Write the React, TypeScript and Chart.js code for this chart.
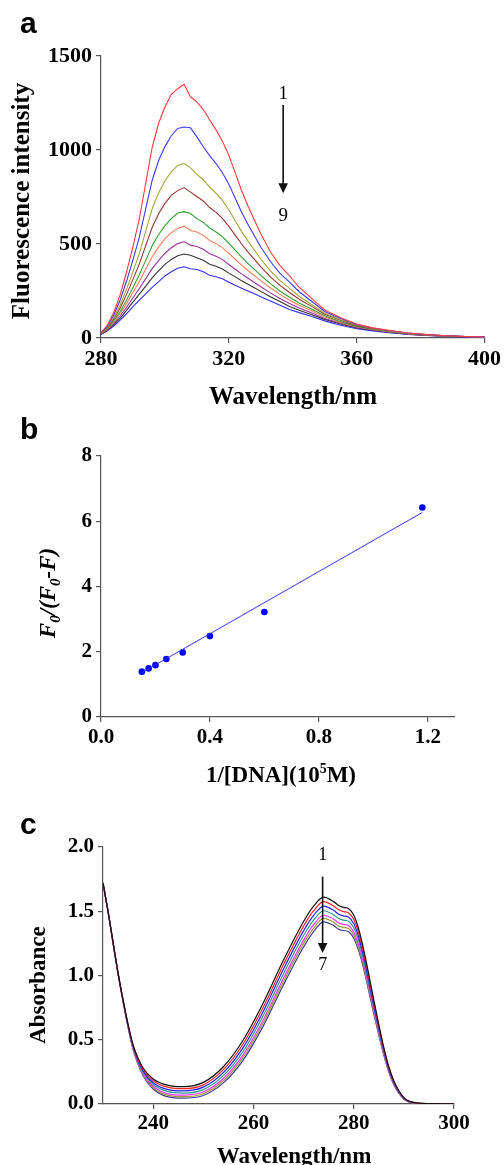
import React, { useEffect, useRef } from "react";
import { Chart, registerables } from "chart.js";

Chart.register(...registerables);

const SERIF = '"Liberation Serif", "Times New Roman", Times, serif';
const SANS = '"Liberation Sans", Arial, Helvetica, sans-serif';
const AXIS_COLOR = "#555555";
const PAGE_W = 504;

// ---------------- Panel a : fluorescence spectra ----------------
const fluorWavelengths = [280, 282, 284, 286, 288, 290, 292, 294, 296, 298, 300, 302, 304, 306, 308, 310, 312, 314, 316, 318, 320, 322, 324, 326, 328, 330, 333, 336, 339, 342, 346, 350, 355, 360, 365, 370, 376, 382, 388, 394, 400];
const fluor1 = [27, 68, 135, 230, 351, 486, 635, 824, 1013, 1141, 1229, 1296, 1326, 1350, 1283, 1256, 1215, 1161, 1107, 1046, 972, 878, 783, 702, 628, 554, 459, 385, 331, 270, 209, 149, 108, 74, 54, 41, 27, 18, 12, 8, 5];
const fluor2 = [27, 63, 122, 202, 303, 416, 537, 688, 838, 943, 1018, 1076, 1115, 1122, 1118, 1070, 1017, 970, 928, 879, 818, 743, 669, 604, 544, 484, 407, 344, 297, 246, 194, 141, 104, 72, 53, 40, 27, 18, 12, 8, 6];
const fluor3 = [26, 58, 109, 176, 260, 353, 450, 568, 687, 771, 835, 884, 918, 928, 905, 870, 842, 803, 770, 732, 682, 624, 566, 515, 468, 420, 357, 305, 264, 222, 177, 132, 97, 69, 51, 38, 26, 17, 12, 8, 6];
const fluor4 = [25, 55, 101, 160, 232, 312, 394, 491, 588, 660, 716, 759, 784, 800, 776, 753, 729, 694, 668, 636, 594, 547, 500, 457, 418, 378, 325, 280, 242, 206, 167, 126, 94, 66, 50, 37, 25, 17, 12, 8, 6];
const fluor5 = [24, 50, 91, 141, 202, 269, 336, 413, 491, 549, 598, 635, 665, 672, 662, 635, 615, 585, 564, 539, 504, 467, 430, 396, 365, 333, 289, 250, 217, 186, 153, 118, 87, 62, 47, 35, 24, 16, 11, 8, 5];
const fluor6 = [23, 48, 84, 130, 183, 243, 301, 367, 432, 483, 527, 560, 583, 595, 572, 564, 546, 519, 502, 481, 450, 419, 388, 359, 332, 305, 267, 232, 201, 174, 144, 112, 83, 60, 45, 34, 23, 16, 11, 8, 5];
const fluor7 = [21, 44, 77, 117, 163, 214, 263, 316, 369, 412, 451, 480, 502, 512, 494, 487, 472, 448, 435, 417, 391, 366, 341, 318, 295, 273, 240, 210, 183, 160, 133, 104, 78, 56, 43, 32, 21, 15, 10, 7, 5];
const fluor8 = [20, 41, 71, 106, 147, 191, 233, 276, 320, 357, 392, 418, 438, 447, 440, 427, 414, 392, 382, 367, 345, 325, 305, 286, 267, 248, 220, 194, 168, 148, 124, 99, 74, 53, 41, 31, 20, 14, 10, 7, 5];
const fluor9 = [19, 38, 64, 95, 129, 167, 201, 235, 269, 299, 330, 352, 371, 379, 368, 364, 352, 334, 326, 315, 296, 280, 265, 250, 235, 220, 197, 174, 152, 135, 114, 91, 68, 49, 38, 28, 19, 13, 9, 7, 5];
const fluorSeries = [fluor1, fluor2, fluor3, fluor4, fluor5, fluor6, fluor7, fluor8, fluor9];
const fluorColors = ["#ff3b3b", "#3a3aff", "#a3a33a", "#993333", "#2f9f2f", "#ff7a5c", "#9933a0", "#333333", "#2f2fff"];
const fluorXTicks = [280, 320, 360, 400];
const fluorYTicks = [0, 500, 1000, 1500];

// ---------------- Panel b : double reciprocal plot ----------------
const invDNA = [0.15, 0.175, 0.2, 0.24, 0.3, 0.4, 0.6, 1.18];
const f0Ratio = [1.39, 1.49, 1.59, 1.78, 1.98, 2.48, 3.22, 6.42];
const fitX = [0.15, 1.18];
const fitY = [1.36, 6.27];
const recipXTicks = [0, 0.4, 0.8, 1.2];
const recipYTicks = [0, 2, 4, 6, 8];

// ---------------- Panel c : absorption spectra ----------------
const absWavelengths = [230, 231, 232, 233, 234, 235, 236, 238, 240, 243, 246, 250, 254, 258, 262, 266, 270, 272, 274, 276, 277, 278, 279, 280, 281, 282, 283, 284, 285, 286, 287, 288, 290, 292, 295, 300];
const abs1 = [1.72, 1.5, 1.26, 1.02, 0.81, 0.62, 0.46, 0.28, 0.195, 0.145, 0.135, 0.168, 0.29, 0.5, 0.79, 1.12, 1.42, 1.54, 1.61, 1.575, 1.545, 1.53, 1.52, 1.47, 1.36, 1.2, 1.01, 0.81, 0.62, 0.44, 0.29, 0.18, 0.05, 0.012, 0.003, 0.002];
const abs2 = [1.72, 1.5, 1.259, 1.019, 0.808, 0.616, 0.453, 0.269, 0.181, 0.129, 0.119, 0.149, 0.267, 0.471, 0.757, 1.085, 1.384, 1.504, 1.575, 1.541, 1.511, 1.497, 1.487, 1.437, 1.329, 1.173, 0.986, 0.79, 0.605, 0.429, 0.282, 0.175, 0.048, 0.011, 0.002, 0.002];
const abs3 = [1.72, 1.5, 1.258, 1.018, 0.806, 0.611, 0.447, 0.258, 0.166, 0.112, 0.102, 0.131, 0.244, 0.443, 0.724, 1.05, 1.347, 1.467, 1.54, 1.507, 1.477, 1.464, 1.454, 1.404, 1.298, 1.145, 0.962, 0.77, 0.589, 0.418, 0.275, 0.169, 0.046, 0.01, 0.002, 0.002];
const abs4 = [1.72, 1.5, 1.257, 1.017, 0.803, 0.607, 0.44, 0.247, 0.152, 0.096, 0.085, 0.112, 0.221, 0.414, 0.691, 1.014, 1.311, 1.431, 1.504, 1.473, 1.443, 1.431, 1.421, 1.371, 1.268, 1.118, 0.937, 0.751, 0.574, 0.407, 0.267, 0.164, 0.043, 0.009, 0.001, 0.001];
const abs5 = [1.72, 1.5, 1.256, 1.016, 0.801, 0.602, 0.434, 0.236, 0.138, 0.079, 0.069, 0.093, 0.198, 0.386, 0.658, 0.979, 1.275, 1.395, 1.469, 1.439, 1.409, 1.398, 1.388, 1.338, 1.237, 1.09, 0.913, 0.731, 0.558, 0.396, 0.259, 0.158, 0.041, 0.008, 0.001, 0.001];
const abs6 = [1.72, 1.5, 1.255, 1.015, 0.8, 0.599, 0.429, 0.228, 0.127, 0.067, 0.057, 0.08, 0.181, 0.365, 0.634, 0.954, 1.248, 1.368, 1.444, 1.414, 1.384, 1.374, 1.364, 1.314, 1.214, 1.07, 0.896, 0.716, 0.547, 0.388, 0.254, 0.154, 0.04, 0.007, 0.001, 0.001];
const abs7 = [1.72, 1.5, 1.254, 1.014, 0.798, 0.596, 0.424, 0.22, 0.117, 0.055, 0.045, 0.066, 0.164, 0.344, 0.61, 0.928, 1.222, 1.342, 1.418, 1.389, 1.359, 1.35, 1.34, 1.29, 1.192, 1.05, 0.878, 0.702, 0.536, 0.38, 0.248, 0.15, 0.038, 0.006, 0.001, 0.001];
const absSeries = [abs1, abs2, abs3, abs4, abs5, abs6, abs7];
const absColors = ["#111111", "#ff2020", "#2020ff", "#2a9a8a", "#ff30ff", "#9a9a30", "#3a3a9a"];
const absXTicks = [240, 260, 280, 300];
const absYTicks = [0, 0.5, 1.0, 1.5, 2.0];

// ---------------- helpers ----------------
type Seg = { t: string; font: string; dy: number };

function drawSegs(ctx: CanvasRenderingContext2D, segs: Seg[], cx: number, cy: number, rotate: boolean) {
  ctx.save();
  ctx.translate(cx, cy);
  if (rotate) ctx.rotate(-Math.PI / 2);
  let total = 0;
  for (const s of segs) {
    ctx.font = s.font;
    total += ctx.measureText(s.t).width;
  }
  let x = -total / 2;
  ctx.textAlign = "left";
  ctx.textBaseline = "alphabetic";
  ctx.fillStyle = "#000";
  for (const s of segs) {
    ctx.font = s.font;
    ctx.fillText(s.t, x, s.dy);
    x += ctx.measureText(s.t).width;
  }
  ctx.restore();
}

function drawText(ctx: CanvasRenderingContext2D, t: string, x: number, y: number, font: string, align: CanvasTextAlign) {
  ctx.save();
  ctx.font = font;
  ctx.fillStyle = "#000";
  ctx.textAlign = align;
  ctx.textBaseline = "alphabetic";
  ctx.fillText(t, x, y);
  ctx.restore();
}

function drawArrow(ctx: CanvasRenderingContext2D, x: number, y0: number, y1: number) {
  ctx.save();
  ctx.strokeStyle = "#111";
  ctx.fillStyle = "#111";
  ctx.lineWidth = 1.6;
  ctx.beginPath();
  ctx.moveTo(x, y0);
  ctx.lineTo(x, y1 - 8);
  ctx.stroke();
  ctx.beginPath();
  ctx.moveTo(x - 4.8, y1 - 10);
  ctx.lineTo(x + 4.8, y1 - 10);
  ctx.lineTo(x, y1);
  ctx.closePath();
  ctx.fill();
  ctx.restore();
}

const bold = (size: number) => `bold ${size}px ${SERIF}`;
const boldItalic = (size: number) => `italic bold ${size}px ${SERIF}`;

type PanelSpec = {
  top: number;
  height: number;
  area: { left: number; right: number; top: number; bottom: number };
  x: { min: number; max: number; ticks: number[]; fmt: (v: number) => string; pad: number };
  y: { min: number; max: number; ticks: number[]; fmt: (v: number) => string; pad: number };
  tickSize: number;
  datasets: any[];
  annotate: (chart: any) => void;
};

function buildConfig(spec: PanelSpec): any {
  const tickFont = { family: SERIF, size: spec.tickSize, weight: "bold" as const };
  const gridOpts = { display: true, drawOnChartArea: false, drawTicks: true, tickLength: 5, color: AXIS_COLOR, lineWidth: 1.2 };
  const borderOpts = { display: true, color: AXIS_COLOR, width: 1.2 };
  return {
    type: "scatter",
    data: { datasets: spec.datasets },
    options: {
      responsive: false,
      maintainAspectRatio: false,
      animation: false,
      devicePixelRatio: 1,
      events: [],
      layout: { padding: { top: spec.area.top, right: PAGE_W - spec.area.right, left: 0, bottom: 0 } },
      plugins: { legend: { display: false }, tooltip: { enabled: false }, title: { display: false } },
      scales: {
        x: {
          type: "linear",
          position: "bottom",
          min: spec.x.min,
          max: spec.x.max,
          afterFit: (s: any) => {
            s.height = spec.height - spec.area.bottom;
          },
          afterBuildTicks: (s: any) => {
            s.ticks = spec.x.ticks.map((v) => ({ value: v }));
          },
          ticks: {
            font: tickFont,
            color: "#000",
            padding: spec.x.pad,
            maxRotation: 0,
            autoSkip: false,
            callback: (v: any) => spec.x.fmt(Number(v)),
          },
          grid: gridOpts,
          border: borderOpts,
        },
        y: {
          type: "linear",
          position: "left",
          min: spec.y.min,
          max: spec.y.max,
          afterFit: (s: any) => {
            s.width = spec.area.left;
          },
          afterBuildTicks: (s: any) => {
            s.ticks = spec.y.ticks.map((v) => ({ value: v }));
          },
          ticks: {
            font: tickFont,
            color: "#000",
            padding: spec.y.pad,
            autoSkip: false,
            callback: (v: any) => spec.y.fmt(Number(v)),
          },
          grid: gridOpts,
          border: borderOpts,
        },
      },
    },
    plugins: [
      {
        id: "annot",
        afterDraw: (chart: any) => spec.annotate(chart),
      },
    ],
  };
}

// ---------------- panel specs ----------------
const panelA: PanelSpec = {
  top: 0,
  height: 420,
  area: { left: 101, right: 486, top: 56, bottom: 338 },
  x: { min: 280, max: 400, ticks: fluorXTicks, fmt: (v) => String(v), pad: 3 },
  y: { min: 0, max: 1500, ticks: fluorYTicks, fmt: (v) => String(v), pad: 4 },
  tickSize: 22,
  datasets: fluorSeries.map((s, i) => ({
    data: fluorWavelengths.map((x, j) => ({ x, y: s[j] })),
    showLine: true,
    borderColor: fluorColors[i],
    borderWidth: 1.1,
    pointRadius: 0,
    tension: 0,
    fill: false,
  })),
  annotate: (chart) => {
    const ctx = chart.ctx as CanvasRenderingContext2D;
    const xs = chart.scales.x;
    const ys = chart.scales.y;
    drawText(ctx, "a", 20, 33, `bold 30px ${SANS}`, "left");
    drawSegs(ctx, [{ t: "Fluorescence intensity", font: bold(25), dy: 0 }], 29, 201, true);
    drawSegs(ctx, [{ t: "Wavelength/nm", font: bold(25), dy: 0 }], 293, 404, false);
    const ax = xs.getPixelForValue(337);
    const y0 = ys.getPixelForValue(1240);
    const y1 = ys.getPixelForValue(770);
    drawArrow(ctx, ax, y0, y1);
    drawText(ctx, "1", ax, y0 - 6, `19px ${SERIF}`, "center");
    drawText(ctx, "9", ax, y1 + 28, `19px ${SERIF}`, "center");
  },
};

const panelB: PanelSpec = {
  top: 400,
  height: 400,
  area: { left: 101, right: 455, top: 56, bottom: 317 },
  x: { min: 0, max: 1.3, ticks: recipXTicks, fmt: (v) => v.toFixed(1), pad: 3 },
  y: { min: 0, max: 8, ticks: recipYTicks, fmt: (v) => String(v), pad: 4 },
  tickSize: 21,
  datasets: [
    {
      data: fitX.map((x, j) => ({ x, y: fitY[j] })),
      showLine: true,
      borderColor: "#3535ff",
      borderWidth: 1,
      pointRadius: 0,
      fill: false,
    },
    {
      data: invDNA.map((x, j) => ({ x, y: f0Ratio[j] })),
      showLine: false,
      backgroundColor: "#0000ff",
      borderColor: "#0000ff",
      pointRadius: 3.3,
      borderWidth: 0,
    },
  ],
  annotate: (chart) => {
    const ctx = chart.ctx as CanvasRenderingContext2D;
    drawText(ctx, "b", 20, 39, `bold 30px ${SANS}`, "left");
    drawSegs(
      ctx,
      [
        { t: "F", font: boldItalic(23), dy: 0 },
        { t: "0", font: boldItalic(15), dy: 5 },
        { t: "/(", font: boldItalic(23), dy: 0 },
        { t: "F", font: boldItalic(23), dy: 0 },
        { t: "0", font: boldItalic(15), dy: 5 },
        { t: "-", font: boldItalic(23), dy: 0 },
        { t: "F", font: boldItalic(23), dy: 0 },
        { t: ")", font: boldItalic(23), dy: 0 },
      ],
      55,
      193,
      true
    );
    drawSegs(
      ctx,
      [
        { t: "1/[DNA](10", font: bold(23), dy: 0 },
        { t: "5", font: bold(14), dy: -9 },
        { t: "M)", font: bold(23), dy: 0 },
      ],
      281,
      382,
      false
    );
  },
};

const panelC: PanelSpec = {
  top: 800,
  height: 365,
  area: { left: 103, right: 454, top: 47, bottom: 304 },
  x: { min: 230, max: 300, ticks: absXTicks, fmt: (v) => String(v), pad: 1.5 },
  y: { min: 0, max: 2, ticks: absYTicks, fmt: (v) => v.toFixed(1), pad: 4 },
  tickSize: 21,
  datasets: absSeries.map((s, i) => ({
    data: absWavelengths.map((x, j) => ({ x, y: s[j] })),
    showLine: true,
    borderColor: absColors[i],
    borderWidth: 1.2,
    pointRadius: 0,
    cubicInterpolationMode: "monotone",
    fill: false,
  })),
  annotate: (chart) => {
    const ctx = chart.ctx as CanvasRenderingContext2D;
    const xs = chart.scales.x;
    const ys = chart.scales.y;
    drawText(ctx, "c", 20, 34, `bold 30px ${SANS}`, "left");
    drawSegs(ctx, [{ t: "Absorbance", font: bold(23), dy: 0 }], 45, 185, true);
    drawSegs(ctx, [{ t: "Wavelength/nm", font: bold(23), dy: 0 }], 294, 363, false);
    const ax = xs.getPixelForValue(273.8);
    const y0 = ys.getPixelForValue(1.77);
    const y1 = ys.getPixelForValue(1.175);
    drawArrow(ctx, ax, y0, y1);
    drawText(ctx, "1", ax, y0 - 17, `18px ${SERIF}`, "center");
    drawText(ctx, "7", ax, y1 + 17, `18px ${SERIF}`, "center");
  },
};

function Panel({ spec }: { spec: PanelSpec }) {
  const ref = useRef<HTMLCanvasElement>(null);
  useEffect(() => {
    if (!ref.current) return;
    const chart = new Chart(ref.current, buildConfig(spec));
    return () => chart.destroy();
  }, [spec]);
  return (
    <canvas
      ref={ref}
      width={PAGE_W}
      height={spec.height}
      style={{ position: "absolute", left: 0, top: spec.top, width: PAGE_W, height: spec.height, display: "block" }}
    />
  );
}

export default function App() {
  return (
    <div style={{ position: "absolute", left: 0, top: 0, width: PAGE_W, height: 1165, background: "#fff", overflow: "hidden" }}>
      <Panel spec={panelA} />
      <Panel spec={panelB} />
      <Panel spec={panelC} />
    </div>
  );
}
